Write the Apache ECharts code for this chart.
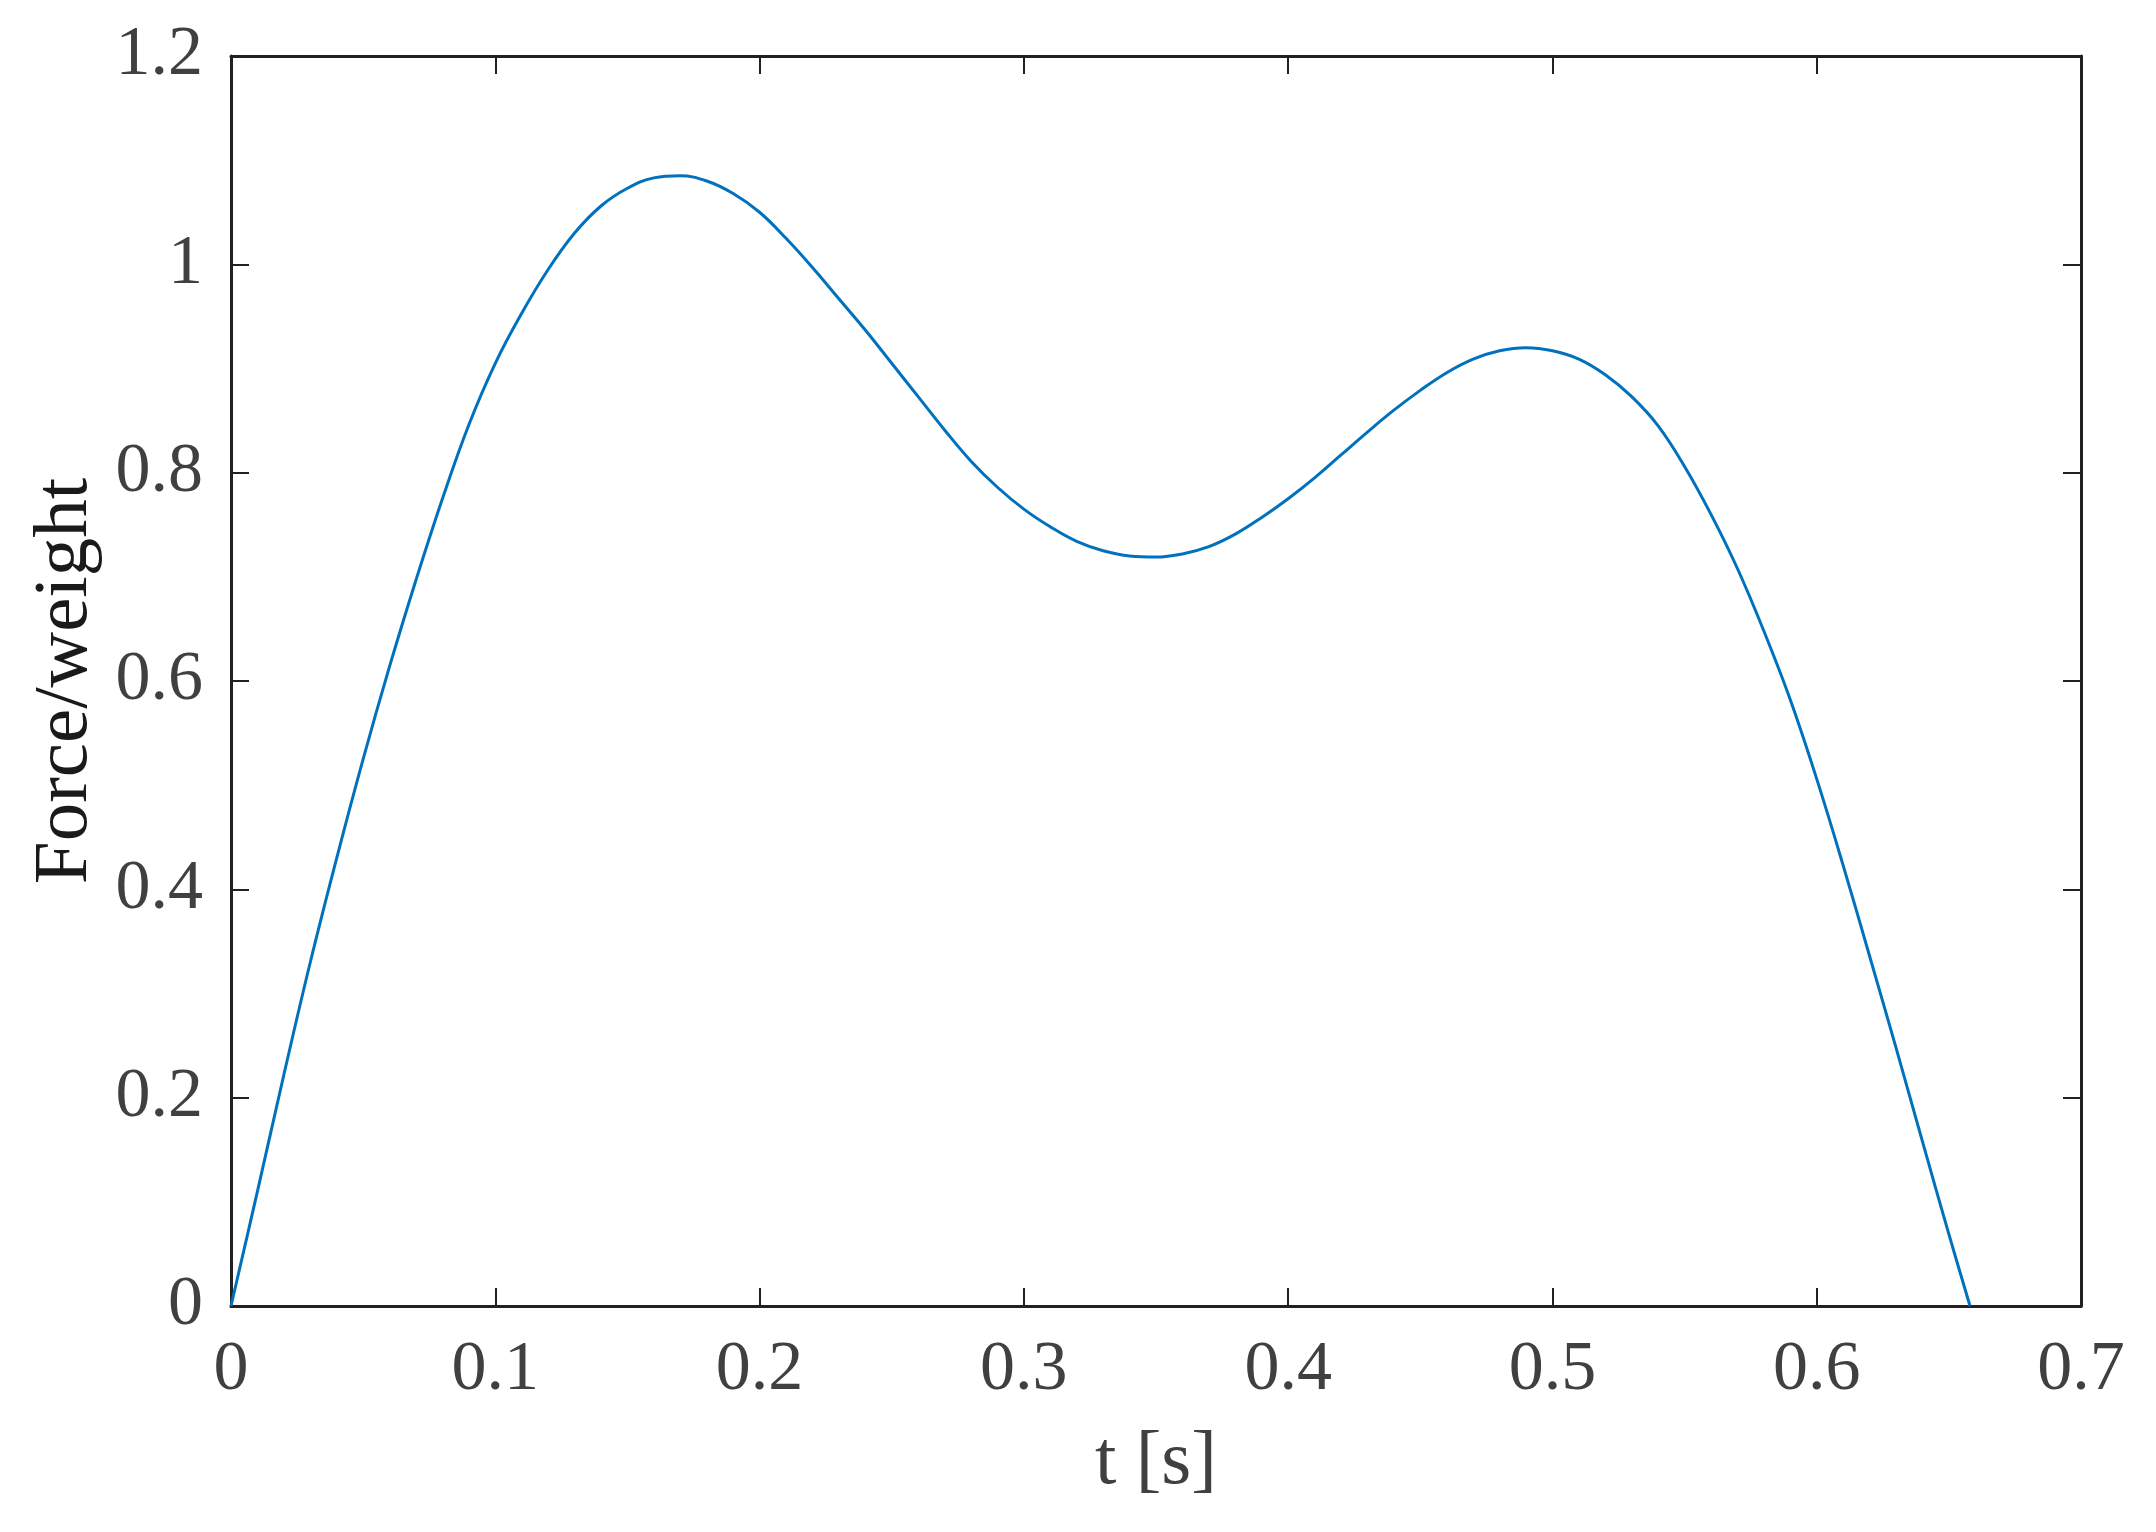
<!DOCTYPE html>
<html>
<head>
<meta charset="utf-8">
<script src="https://cdn.jsdelivr.net/npm/echarts@6/dist/echarts.min.js"></script>
<style>
  html, body { margin: 0; padding: 0; background: #fff; }
  #chart { width: 2156px; height: 1532px; }
</style>
</head>
<body>
<div id="chart"></div>
<script>
// time [s]
const tValues = [
  0, 0.01, 0.02, 0.03, 0.04, 0.05, 0.06, 0.07, 0.08, 0.09,
  0.10, 0.11, 0.12, 0.13, 0.14, 0.15, 0.16, 0.17, 0.18, 0.19,
  0.20, 0.21, 0.22, 0.23, 0.24, 0.25, 0.26, 0.27, 0.28, 0.29,
  0.30, 0.31, 0.32, 0.33, 0.34, 0.35, 0.36, 0.37, 0.38, 0.39,
  0.40, 0.41, 0.42, 0.43, 0.44, 0.45, 0.46, 0.47, 0.48, 0.49,
  0.50, 0.51, 0.52, 0.53, 0.54, 0.55, 0.56, 0.57, 0.58, 0.59,
  0.60, 0.61, 0.62, 0.63, 0.64, 0.65, 0.658
]
// force / weight
const forceRatio = [
  0, 0.110, 0.222, 0.330, 0.430, 0.525, 0.614, 0.697, 0.775, 0.846,
  0.905, 0.953, 0.995, 1.030, 1.056, 1.073, 1.083, 1.085, 1.080, 1.068,
  1.050, 1.025, 0.997, 0.967, 0.937, 0.905, 0.873, 0.841, 0.811, 0.786,
  0.765, 0.748, 0.734, 0.725, 0.720, 0.719, 0.722, 0.729, 0.741, 0.757,
  0.775, 0.795, 0.817, 0.839, 0.860, 0.879, 0.896, 0.909, 0.917, 0.920,
  0.917, 0.909, 0.894, 0.873, 0.845, 0.806, 0.760, 0.708, 0.648, 0.582,
  0.506, 0.423, 0.336, 0.248, 0.158, 0.069, 0
]
const xTicks = { min: 0, max: 0.7, interval: 0.1 }
const yTicks = { min: 0, max: 1.2, interval: 0.2 }

const font = '"Liberation Serif", "Times New Roman", serif'
const axisColor = '#212121'
const labelColor = '#404040'

function axisBase(range, extra) {
  return Object.assign({
    type: 'value',
    min: range.min,
    max: range.max,
    interval: range.interval,
    axisLine: { show: true, onZero: false, lineStyle: { color: axisColor, width: 3 } },
    axisTick: { show: true, inside: true, length: 18, lineStyle: { color: axisColor, width: 2 } },
    splitLine: { show: false },
    axisLabel: { show: false }
  }, extra)
}

const chart = echarts.init(document.getElementById('chart'), null, { renderer: 'canvas' })
chart.setOption({
  animation: false,
  backgroundColor: '#ffffff',
  grid: { left: 231, right: 75, top: 56, bottom: 226, containLabel: false },
  xAxis: [
    axisBase(xTicks, {
      position: 'bottom',
      name: 't [s]',
      nameLocation: 'middle',
      nameGap: 118,
      nameTextStyle: { fontFamily: font, fontSize: 77, color: labelColor },
      axisLabel: {
        show: true, margin: 30, fontFamily: font, fontSize: 70, color: labelColor,
        formatter: v => String(+v.toFixed(1))
      }
    }),
    axisBase(xTicks, { position: 'top' })
  ],
  yAxis: [
    axisBase(yTicks, {
      position: 'left',
      name: 'Force/weight',
      nameLocation: 'middle',
      nameGap: 126,
      nameTextStyle: { fontFamily: font, fontSize: 77, color: '#1a1a1a' },
      axisLabel: {
        show: true, margin: 28, fontFamily: font, fontSize: 70, color: labelColor,
        formatter: v => String(+v.toFixed(1))
      }
    }),
    axisBase(yTicks, { position: 'right' })
  ],
  series: [{
    type: 'line',
    data: tValues.map((t, i) => [t, forceRatio[i]]),
    symbol: 'none',
    smooth: 0.4,
    lineStyle: { color: '#0072BD', width: 3 },
    xAxisIndex: 0,
    yAxisIndex: 0
  }]
})
</script>
</body>
</html>
